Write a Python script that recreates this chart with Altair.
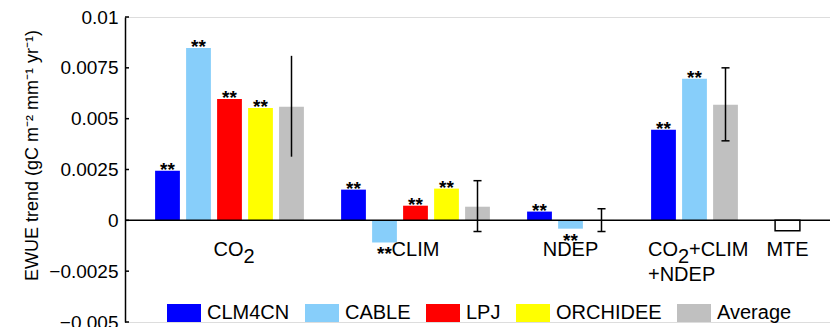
import altair as alt
import pandas as pd

# ---------------- data ----------------
groups = ["CO2", "CLIM", "NDEP", "CO2+CLIM+NDEP", "MTE"]
models = ["CLM4CN", "CABLE", "LPJ", "ORCHIDEE", "Average", "MTE"]
legend_models = ["CLM4CN", "CABLE", "LPJ", "ORCHIDEE", "Average"]

clm4cn = [0.00244, 0.00151, 0.00043, 0.00445, None]
cable = [0.00848, -0.00109, -0.00041, 0.00696, None]
lpj = [0.00597, 0.00072, None, None, None]
orchidee = [0.00553, 0.00156, None, None, None]
average = [0.00558, 0.00067, 0.00002, 0.00568, None]
mte = [None, None, None, None, -0.00051]

avg_low = [0.00313, -0.00055, -0.00055, 0.00391, None]
avg_high = [0.00809, 0.00195, 0.00057, 0.00750, None]

significant_models = ["CLM4CN", "CABLE", "LPJ", "ORCHIDEE"]
star_text = "**"

y_ticks = [-0.005, -0.0025, 0, 0.0025, 0.005, 0.0075, 0.01]
y_title = "EWUE trend (gC m\u207b\u00b2 mm\u207b\u00b9 yr\u207b\u00b9)"

# group label pieces (text, group)
label_text = ["CO", "2", "CLIM", "NDEP", "CO", "2", "+CLIM", "+NDEP", "MTE"]
label_group = ["CO2", "CO2", "CLIM", "NDEP", "CO2+CLIM+NDEP", "CO2+CLIM+NDEP",
               "CO2+CLIM+NDEP", "CO2+CLIM+NDEP", "MTE"]

# ---------------- styles ----------------
colors = ["#0000FF", "#87CEFA", "#FF0000", "#FFFF00", "#C0C0C0"]
FONT = "Liberation Sans"
# (dx, dy, align) for each label piece
label_style = [(14, 36, "right"), (14, 43, "left"), (0, 36, "center"), (0, 36, "center"),
               (-46.5, 36, "left"), (-16.5, 43, "left"), (-5.5, 36, "left"),
               (-46.5, 61, "left"), (0, 36, "center")]
# whether each group's error bar has end caps
err_caps = [False, True, True, True, False]

W, H = 705, 305
BAR_HALF = 0.4
CAP_HALF = 0.13

# ---------------- table building ----------------
series = {"CLM4CN": clm4cn, "CABLE": cable, "LPJ": lpj, "ORCHIDEE": orchidee,
          "Average": average, "MTE": mte}
rows = []
err_rows = []
centers = {}
slot = 0
for gi, g in enumerate(groups):
    slots = []
    for m in models:
        v = series[m][gi]
        if v is None:
            continue
        rows.append({"group": g, "model": m, "value": v, "slot": slot,
                     "x0": slot - BAR_HALF, "x1": slot + BAR_HALF,
                     "star": star_text if m in significant_models else ""})
        if m == "Average" and avg_low[gi] is not None:
            err_rows.append({"slot": slot, "low": avg_low[gi], "high": avg_high[gi],
                             "c0": slot - CAP_HALF, "c1": slot + CAP_HALF,
                             "cap": err_caps[gi]})
        slots.append(slot)
        slot += 1
    centers[g] = sum(slots) / len(slots)
    slot += 1  # gap between groups

df = pd.DataFrame(rows)
err = pd.DataFrame(err_rows)
caps = err[err.cap]
df_models = df[df.model != "MTE"]
df_mte = df[df.model == "MTE"]
stars_pos = df[(df.star != "") & (df.value > 0)]
stars_neg = df[(df.star != "") & (df.value < 0)]

xdom = [-1.371, -1.371 + W / 31.0]
xs = alt.Scale(domain=xdom, nice=False, zero=False)
ys = alt.Scale(domain=[-0.005, 0.01], nice=False, zero=False)

sym_path = "M-1,-0.53H1V0.53H-1Z"

bars = alt.Chart(df_models).mark_bar(strokeWidth=0).encode(
    x=alt.X("x0:Q", scale=xs, axis=None),
    x2="x1:Q",
    y=alt.Y("value:Q", scale=ys,
            axis=alt.Axis(values=y_ticks, labelExpr="format(datum.value, '~g')",
                          title=y_title, grid=False,
                          tickSize=0, labelPadding=7, labelFontSize=19, labelFont=FONT,
                          labelColor="black", domainColor="black", domainWidth=1.5,
                          titleFont=FONT, titleFontSize=18, titleFontWeight="normal",
                          titleColor="black", titleX=-84, titleY=138,
                          titleAlign="center", titleBaseline="bottom")),
    y2=alt.datum(0),
    color=alt.Color("model:N",
                    scale=alt.Scale(domain=legend_models, range=colors),
                    sort=legend_models,
                    legend=alt.Legend(orient="none", legendX=42, legendY=279,
                                      direction="horizontal", title=None,
                                      symbolType=sym_path, symbolSize=1156,
                                      symbolStrokeWidth=0, symbolOpacity=1,
                                      labelFont=FONT, labelFontSize=20,
                                      labelColor="black", labelOffset=6,
                                      columnPadding=15, padding=0)),
)

mte_bar = alt.Chart(df_mte).mark_bar(fill="white", stroke="black", strokeWidth=1.5).encode(
    x=alt.X("x0:Q", scale=xs), x2="x1:Q",
    y=alt.Y("value:Q", scale=ys), y2=alt.datum(0),
)

zero = alt.Chart(pd.DataFrame({"v": [0]})).mark_rule(color="black", strokeWidth=1.5).encode(
    y=alt.Y("v:Q", scale=ys), x=alt.value(0), x2=alt.value(W),
)

ticks = alt.Chart(pd.DataFrame({"t": y_ticks})).mark_rule(color="black", strokeWidth=1.5).encode(
    y=alt.Y("t:Q", scale=ys), x=alt.value(0), x2=alt.value(4),
)

err_line = alt.Chart(err).mark_rule(color="black", strokeWidth=1.5).encode(
    x=alt.X("slot:Q", scale=xs), y=alt.Y("low:Q", scale=ys), y2="high:Q",
)
cap_lo = alt.Chart(caps).mark_rule(color="black", strokeWidth=1.5).encode(
    x=alt.X("c0:Q", scale=xs), x2="c1:Q", y=alt.Y("low:Q", scale=ys),
)
cap_hi = alt.Chart(caps).mark_rule(color="black", strokeWidth=1.5).encode(
    x=alt.X("c0:Q", scale=xs), x2="c1:Q", y=alt.Y("high:Q", scale=ys),
)

star_p = alt.Chart(stars_pos).mark_text(font=FONT, fontSize=19, fontWeight="bold",
                                         color="black", baseline="alphabetic", dy=5).encode(
    x=alt.X("slot:Q", scale=xs), y=alt.Y("value:Q", scale=ys), text="star:N",
)
star_n = alt.Chart(stars_neg).mark_text(font=FONT, fontSize=19, fontWeight="bold",
                                         color="black", baseline="alphabetic", dy=18).encode(
    x=alt.X("slot:Q", scale=xs), y=alt.Y("value:Q", scale=ys), text="star:N",
)

label_layers = []
for txt, grp, (dx, dy, al) in zip(label_text, label_group, label_style):
    d = pd.DataFrame({"text": [txt], "xc": [centers[grp]], "y0": [0]})
    label_layers.append(
        alt.Chart(d).mark_text(font=FONT, fontSize=20, color="black", align=al,
                               baseline="alphabetic", dx=dx, dy=dy).encode(
            x=alt.X("xc:Q", scale=xs), y=alt.Y("y0:Q", scale=ys), text="text:N")
    )

chart = alt.layer(bars, mte_bar, zero, ticks, err_line, cap_lo, cap_hi, star_p, star_n,
                  *label_layers).properties(
    width=W, height=H,
    autosize=alt.AutoSizeParams(type="none"),
    padding={"left": 117, "top": 9, "right": 0, "bottom": 5},
).configure_view(stroke=None).configure(background="white")

chart.save("out.html", embed_options={"renderer": "svg", "actions": False})
